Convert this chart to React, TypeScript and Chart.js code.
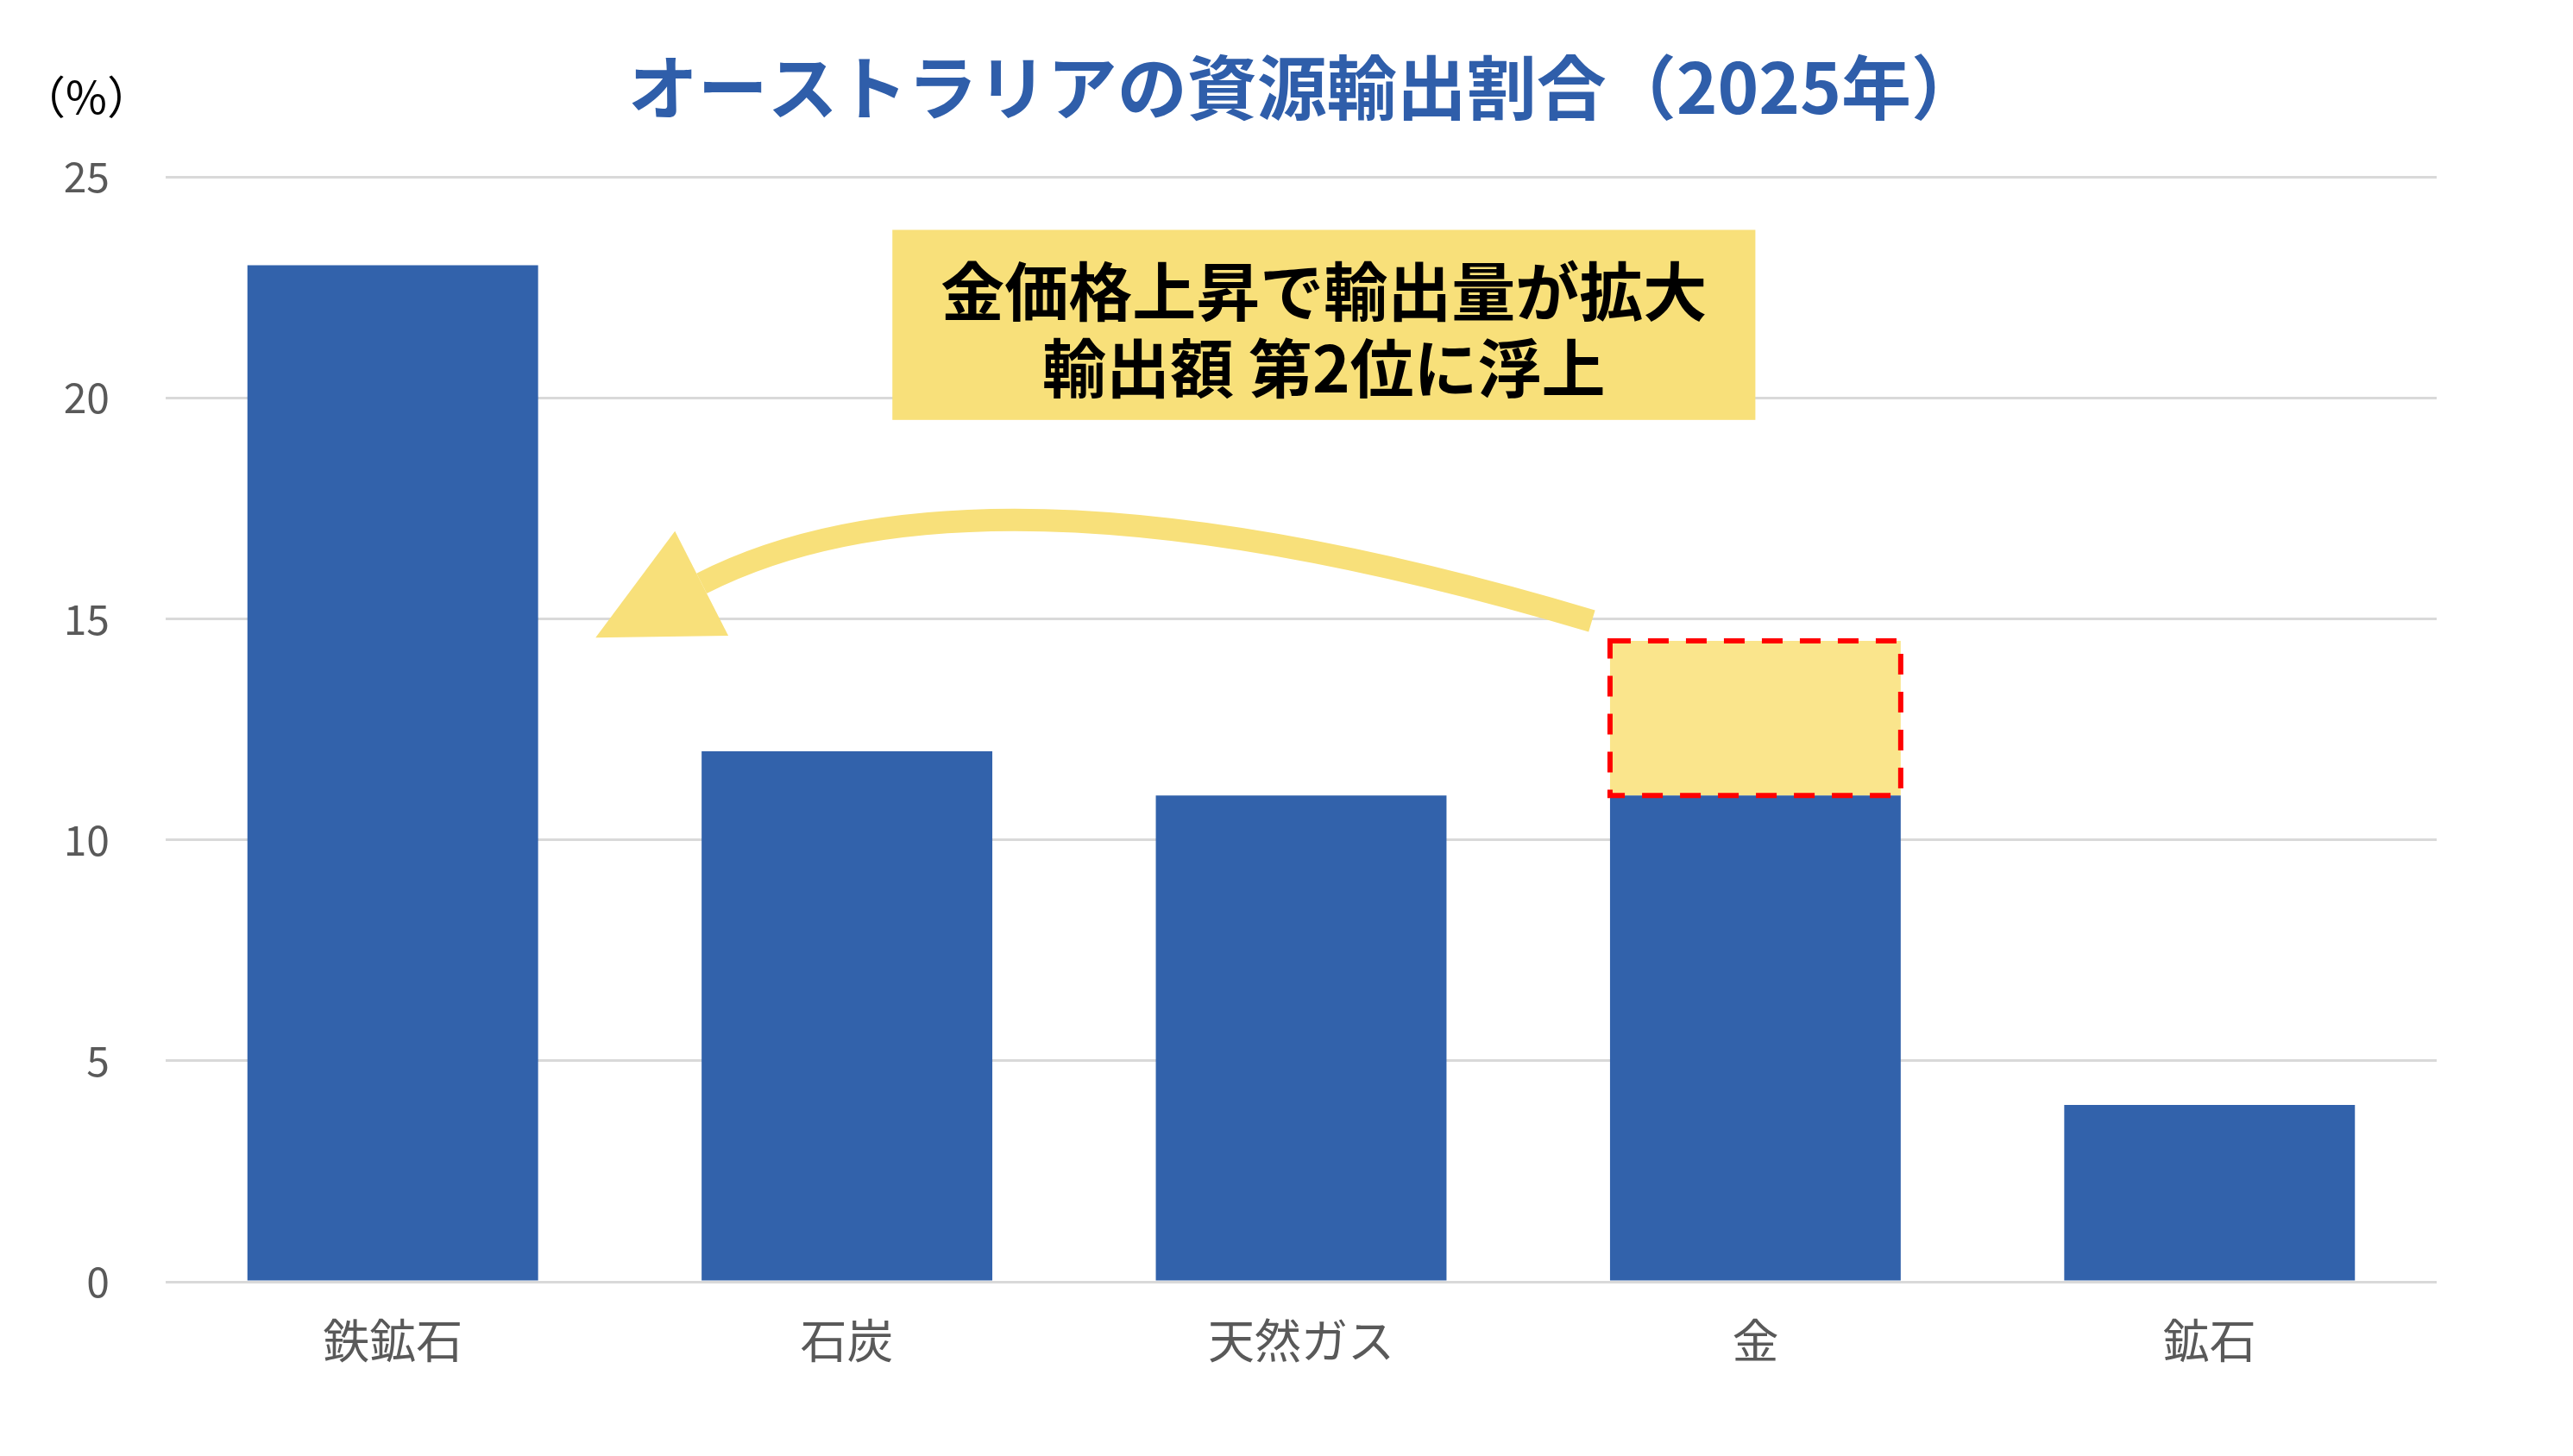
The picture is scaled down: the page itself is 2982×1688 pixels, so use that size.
import { useEffect, useRef } from 'react';
import { Chart, registerables } from 'chart.js';

Chart.register(...registerables);

const categories = ['鉄鉱石', '石炭', '天然ガス', '金', '鉱石'];
const shares = [23, 12, 11, 11, 4];
const goldRise = [0, 0, 0, 3.5, 0];
const yMax = 25;
const yStep = 5;

const titleText = 'オーストラリアの資源輸出割合（2025年）';
const unitText = '（%）';
const noteLines = ['金価格上昇で輸出量が拡大', '輸出額 第2位に浮上'];

// note box corners as (category index, value)
const noteX = [1.1, 3.0];
const noteY = [23.8, 19.5];
// arrow: tail, control point, head base as (category index, value)
const arrowX = [2.64, 1.3, 0.68];
const arrowY = [14.95, 19.05, 15.8];

const FONT = '"Noto Sans CJK JP", "Noto Sans", sans-serif';
const BLUE = '#3262AB';
const YELLOW = '#F8E07A';

const overlay = {
  id: 'overlay',
  afterDatasetsDraw(chart: any) {
    const { ctx, chartArea } = chart;
    const xs = chart.scales.x;
    const ys = chart.scales.y;
    ctx.save();

    // dashed outline round the rise segment
    const meta = chart.getDatasetMeta(1);
    meta.data.forEach((bar: any, i: number) => {
      if (!goldRise[i]) return;
      const p = bar.getProps(['x', 'y', 'base', 'width'], true);
      ctx.setLineDash([24, 20]);
      ctx.strokeStyle = '#FF0000';
      ctx.lineWidth = 6;
      ctx.strokeRect(p.x - p.width / 2, p.y, p.width, p.base - p.y);
    });
    ctx.setLineDash([]);

    // note box
    const bx0 = xs.getPixelForValue(noteX[0]);
    const bx1 = xs.getPixelForValue(noteX[1]);
    const by0 = ys.getPixelForValue(noteY[0]);
    const by1 = ys.getPixelForValue(noteY[1]);
    ctx.fillStyle = YELLOW;
    ctx.fillRect(bx0, by0, bx1 - bx0, by1 - by0);
    ctx.fillStyle = '#000000';
    ctx.font = `bold 74px ${FONT}`;
    ctx.textAlign = 'center';
    ctx.textBaseline = 'middle';
    const cx = (bx0 + bx1) / 2;
    const cy = (by0 + by1) / 2 + 6;
    const lh = 89;
    noteLines.forEach((line, i) => {
      ctx.fillText(line, cx, cy + (i - (noteLines.length - 1) / 2) * lh);
    });

    // curved arrow
    const px = arrowX.map((v) => xs.getPixelForValue(v));
    const py = arrowY.map((v) => ys.getPixelForValue(v));
    ctx.strokeStyle = YELLOW;
    ctx.lineWidth = 26;
    ctx.lineCap = 'butt';
    ctx.beginPath();
    ctx.moveTo(px[0], py[0]);
    ctx.quadraticCurveTo(px[1], py[1], px[2], py[2]);
    ctx.stroke();
    let dx = px[2] - px[1];
    let dy = py[2] - py[1];
    const len = Math.hypot(dx, dy);
    dx /= len;
    dy /= len;
    const headLen = 138;
    const halfW = 68;
    ctx.fillStyle = YELLOW;
    ctx.beginPath();
    ctx.moveTo(px[2] + dx * headLen, py[2] + dy * headLen);
    ctx.lineTo(px[2] - dy * halfW, py[2] + dx * halfW);
    ctx.lineTo(px[2] + dy * halfW, py[2] - dx * halfW);
    ctx.closePath();
    ctx.fill();

    // title and unit
    ctx.fillStyle = '#2F5EAA';
    ctx.font = `bold 81px ${FONT}`;
    ctx.textAlign = 'center';
    ctx.textBaseline = 'middle';
    ctx.fillText(titleText, chart.width * 0.507, chartArea.top - 104);

    ctx.fillStyle = '#000000';
    ctx.font = `52px ${FONT}`;
    ctx.fillText(unitText, (ys.left + ys.right) / 2 + 4, chartArea.top - 93);

    ctx.restore();
  },
};

export default function App() {
  const canvasRef = useRef<HTMLCanvasElement>(null);
  const chartRef = useRef<Chart | null>(null);

  useEffect(() => {
    if (!canvasRef.current) return;
    if (chartRef.current) chartRef.current.destroy();

    chartRef.current = new Chart(canvasRef.current, {
      type: 'bar',
      data: {
        labels: categories,
        datasets: [
          {
            label: '輸出割合',
            data: shares,
            backgroundColor: BLUE,
            borderWidth: 0,
            barPercentage: 0.64,
            categoryPercentage: 1,
          },
          {
            label: '上昇分',
            data: goldRise,
            backgroundColor: '#FAE58C',
            borderWidth: 0,
            barPercentage: 0.64,
            categoryPercentage: 1,
          },
        ],
      },
      options: {
        responsive: true,
        maintainAspectRatio: false,
        animation: false,
        events: [],
        layout: { padding: { top: 205, right: 158, bottom: 0, left: 0 } },
        plugins: {
          legend: { display: false },
          title: { display: false },
          tooltip: { enabled: false },
        },
        scales: {
          x: {
            stacked: true,
            grid: { display: false },
            border: { display: false },
            ticks: {
              color: '#595959',
              font: { family: FONT, size: 54 },
              padding: 28,
            },
            afterFit: (scale: any) => {
              scale.height = 202;
            },
          },
          y: {
            stacked: true,
            min: 0,
            max: yMax,
            ticks: {
              stepSize: yStep,
              color: '#595959',
              font: { family: FONT, size: 48 },
              padding: 65,
            },
            grid: { color: '#D9D9D9', lineWidth: 3, drawTicks: false },
            border: { display: false },
            afterFit: (scale: any) => {
              scale.width = 192;
            },
          },
        },
      },
      plugins: [overlay],
    });

    return () => {
      if (chartRef.current) {
        chartRef.current.destroy();
        chartRef.current = null;
      }
    };
  }, []);

  return (
    <div style={{ position: 'fixed', top: 0, left: 0, width: '100vw', height: '100vh', background: '#ffffff' }}>
      <canvas ref={canvasRef}></canvas>
    </div>
  );
}
